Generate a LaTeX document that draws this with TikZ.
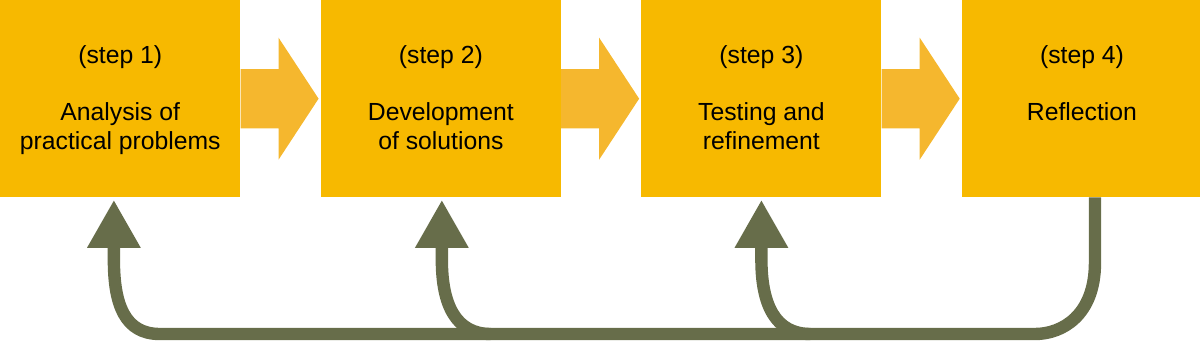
\documentclass[tikz,border=0pt]{standalone}
\usepackage{fontspec}
\setmainfont{Liberation Sans}
\usepackage{tikz}
\usetikzlibrary{positioning,arrows.meta,calc}
\definecolor{stepyellow}{RGB}{247,185,0}
\definecolor{flowyellow}{RGB}{245,183,46}
\definecolor{loopgreen}{RGB}{103,109,74}
\tikzset{
  stepbox/.style={fill=stepyellow, minimum width=60mm, minimum height=49.2mm,
                  inner sep=0pt, anchor=north west},
  stepno/.style={font=\fontsize{17.6}{20.6}\selectfont, anchor=base, inner sep=0pt},
  stepbody/.style={font=\fontsize{17.6}{20.6}\selectfont, align=center,
                   anchor=north, inner sep=0pt},
  flow/.style={fill=flowyellow},
  back/.style={draw=loopgreen, line width=3.1mm},
  backtip/.style={back, -{Triangle[length=12mm, width=12.5mm]}}
}

\begin{document}
\begin{tikzpicture}
\useasboundingbox (0,0) rectangle (300mm,-86.25mm);

% the four steps
\node[stepbox] (s1) at (0,0) {};
\node[stepbox, right=20mm of s1] (s2) {};
\node[stepbox, right=20mm of s2] (s3) {};
\node[stepbox, right=20mm of s3] (s4) {};

\node[stepno] (n1) at ($(s1.north)+(0,-15.75mm)$) {(step 1)};
\node[stepno] (n2) at ($(s2.north)+(0,-15.75mm)$) {(step 2)};
\node[stepno] (n3) at ($(s3.north)+(0,-15.75mm)$) {(step 3)};
\node[stepno] (n4) at ($(s4.north)+(0,-15.75mm)$) {(step 4)};

\node[stepbody] (t1) at ($(s1.north)+(0,-25.6mm)$) {Analysis of\\practical problems};
\node[stepbody] (t2) at ($(s2.north)+(0,-25.6mm)$) {Development\\of solutions};
\node[stepbody] (t3) at ($(s3.north)+(0,-25.6mm)$) {Testing and\\refinement};
\node[stepbody] (t4) at ($(s4.north)+(0,-25.6mm)$) {Reflection};

% block arrows between the steps
\foreach \a in {s1,s2,s3}
  \fill[flow] (\a.east) ++(0,7.4mm) -- ++(9.5mm,0) -- ++(0,7.85mm) -- ++(10mm,-15.25mm)
    -- ++(-10mm,-15.25mm) -- ++(0,7.85mm) -- ++(-9.5mm,0) -- cycle;

% feedback loop
\coordinate (out4) at ($(s4.south)+(3.25mm,0)$);
\coordinate (in1) at ($(s1.south)+(-1.6mm,-0.6mm)$);
\coordinate (in2) at ($(s2.south)+(0.25mm,-0.6mm)$);
\coordinate (in3) at ($(s3.south)+(0,-0.6mm)$);
\coordinate (bus) at (0,-83.5mm);

\foreach \c in {in2,in3}
  \draw[backtip] ($(bus -| \c)+(12.25mm,0)$) .. controls +(-8.75mm,0) and +(0,-11.25mm)
    .. ($(\c)+(0,-15mm)$) -- (\c);
\draw[backtip] (out4) -- ++(0,-16.3mm) .. controls +(0,-13.25mm) and +(6.75mm,0)
  .. ($(bus -| out4)+(-15mm,0)$) -- ($(bus -| in1)+(11.5mm,0)$)
  .. controls +(-8.75mm,0) and +(0,-11.25mm) .. ($(in1)+(0,-15mm)$) -- (in1);
\end{tikzpicture}
\end{document}
